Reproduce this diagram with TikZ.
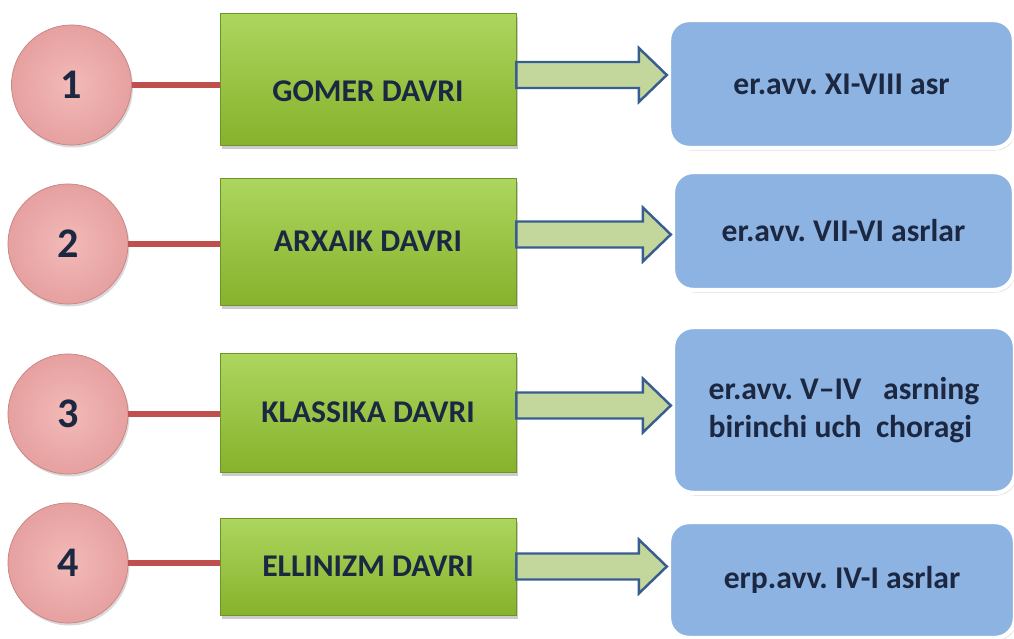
\documentclass[tikz,border=0pt]{standalone}
\usepackage{fontspec}
\setmainfont{Carlito}
\frenchspacing
\usetikzlibrary{positioning, calc, shadows}
\definecolor{navytext}{RGB}{28,40,66}
\definecolor{pinkfill}{RGB}{230,160,160}
\definecolor{pinklight}{RGB}{242,186,184}
\definecolor{pinkedge}{RGB}{200,130,130}
\definecolor{linered}{RGB}{192,80,77}
\definecolor{greentop}{RGB}{172,214,94}
\definecolor{greenbot}{RGB}{134,178,44}
\definecolor{greenedge}{RGB}{110,148,38}
\definecolor{arrowfill}{RGB}{195,214,155}
\definecolor{arrowedge}{RGB}{56,93,145}
\definecolor{bluefill}{RGB}{141,179,226}

\begin{document}
\begin{tikzpicture}[
        num/.style={circle, minimum size=2.4cm, inner color=pinklight, outer color=pinkfill, draw=pinkedge, thin, drop shadow={shadow xshift=0.03cm, shadow yshift=-0.05cm, opacity=0.3}, text=navytext, font=\fontsize{24}{28}\selectfont\bfseries},
        period/.style={rectangle, minimum width=5.92cm, top color=greentop, bottom color=greenbot, draw=greenedge, thin, drop shadow={shadow xshift=0.04cm, shadow yshift=-0.07cm, opacity=0.4}, text=navytext, font=\fontsize{18}{21.6}\selectfont\bfseries},
        dates/.style={rectangle, rounded corners=0.4cm, fill=bluefill, draw=white, line width=2.5pt, drop shadow={shadow xshift=0.03cm, shadow yshift=-0.05cm, opacity=0.3}, align=center, text=navytext, font=\fontsize{18}{21.6}\selectfont\bfseries},
        link/.style={draw=linered, line width=3.6pt},
        blockarrow/.style={draw=arrowedge, fill=arrowfill, line width=1.4pt, line join=miter,
            to path={($(\tikztostart)+(0,0.26)$) -- ($(\tikztostart -| \tikztotarget)+(-0.56,0.26)$)
                -- ($(\tikztostart -| \tikztotarget)+(-0.56,0.54)$) -- (\tikztostart -| \tikztotarget)
                -- ($(\tikztostart -| \tikztotarget)+(-0.56,-0.54)$) -- ($(\tikztostart -| \tikztotarget)+(-0.56,-0.26)$)
                -- ($(\tikztostart)+(0,-0.26)$) -- cycle}}
    ]
        \useasboundingbox (0,0) rectangle (20.28,-12.78);

        % numbered circles
        \node[num] (N1) at (1.43,-1.70) {1};
        \node[num] (N2) at (1.36,-4.88) {2};
        \node[num] (N3) at (1.36,-8.28) {3};
        \node[num] (N4) at (1.36,-11.26) {4};

        % periods
        \node[period, minimum height=2.64cm] (GOMER) at (7.36,-1.58) {\raisebox{-0.24cm}[\height][\depth]{GOMER DAVRI}};
        \node[period, minimum height=2.54cm] (ARXAIK) at (7.36,-4.83) {ARXAIK DAVRI};
        \node[period, minimum height=2.38cm] (KLASSIKA) at (7.36,-8.25) {KLASSIKA DAVRI};
        \node[period, minimum height=1.94cm] (ELLINIZM) at (7.36,-11.33) {ELLINIZM DAVRI};

        % dates
        \node[dates, minimum width=6.9cm, minimum height=2.56cm] (D1) at (16.83,-1.68) {er.avv. XI-VIII asr};
        \node[dates, minimum width=6.82cm, minimum height=2.36cm] (D2) at (16.87,-4.62) {er.avv. VII-VI asrlar};
        \node[dates, minimum width=6.84cm, minimum height=3.32cm, align=left] (D3) at (16.88,-8.20) {er.avv. V–IV\ \ \ asrning\\birinchi uch\ \ choragi};
        \node[dates, minimum width=6.92cm, minimum height=2.32cm] (D4) at (16.84,-11.60) {erp.avv. IV-I asrlar};

        % links
        \draw[link] (N1.east) -- (N1.east -| GOMER.west);
        \draw[link] (N2.east) -- (N2.east -| ARXAIK.west);
        \draw[link] (N3.east) -- (N3.east -| KLASSIKA.west);
        \draw[link] (N4.east) -- (N4.east -| ELLINIZM.west);

        % arrows
        \draw[blockarrow] ([yshift=0.08cm]GOMER.east) to (D1.west);
        \draw[blockarrow] ([yshift=0.14cm]ARXAIK.east) to (D2.west);
        \draw[blockarrow] ([yshift=0.14cm]KLASSIKA.east) to (D3.west);
        \draw[blockarrow] (ELLINIZM.east) to (D4.west);
    \end{tikzpicture}
\end{document}
